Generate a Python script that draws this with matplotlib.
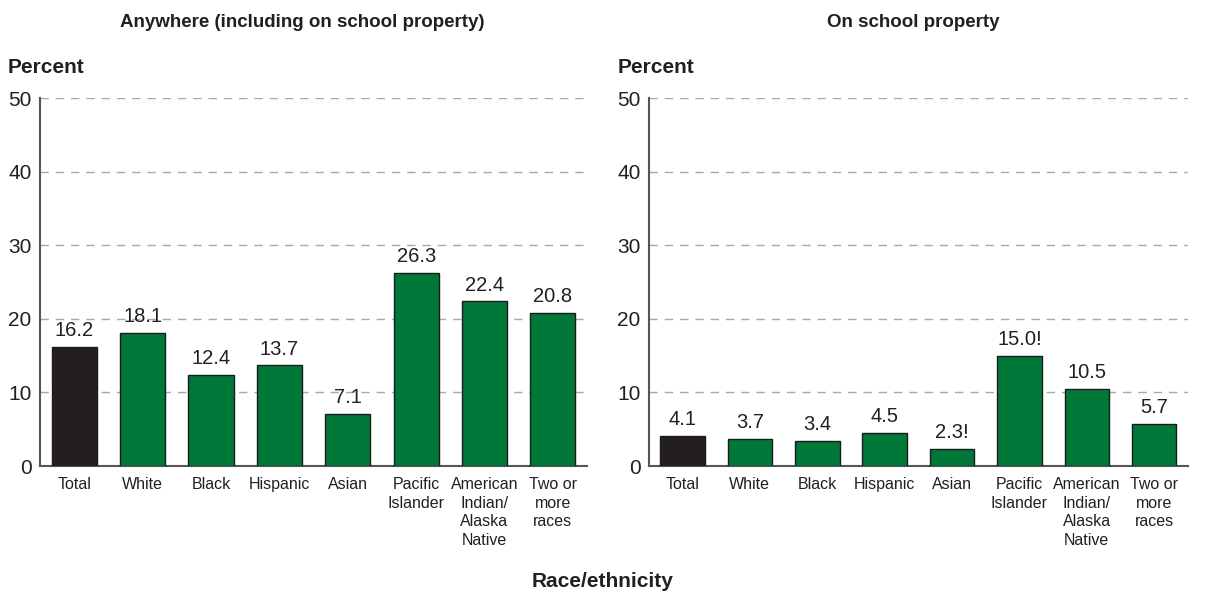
import matplotlib
matplotlib.use("Agg")
import matplotlib.pyplot as plt

plt.rcParams['font.family'] = ['Liberation Sans', 'DejaVu Sans']

categories = ["Total", "White", "Black", "Hispanic", "Asian", "Pacific\nIslander",
              "American\nIndian/\nAlaska\nNative", "Two or\nmore\nraces"]
anywhere = [16.2, 18.1, 12.4, 13.7, 7.1, 26.3, 22.4, 20.8]
anywhere_labels = ["16.2", "18.1", "12.4", "13.7", "7.1", "26.3", "22.4", "20.8"]
school = [4.1, 3.7, 3.4, 4.5, 2.3, 15.0, 10.5, 5.7]
school_labels = ["4.1", "3.7", "3.4", "4.5", "2.3!", "15.0!", "10.5", "5.7"]
yticks = [0, 10, 20, 30, 40, 50]
titles = ["Anywhere (including on school property)", "On school property"]

GREEN = "#00783A"
DARK = "#231F20"

fig = plt.figure(figsize=(12.06, 5.99), dpi=100)
ax1 = fig.add_axes([0.0332, 0.222, 0.4536, 0.614])
ax2 = fig.add_axes([0.538, 0.222, 0.447, 0.614])

for ax, vals, labs, title in [(ax1, anywhere, anywhere_labels, titles[0]),
                              (ax2, school, school_labels, titles[1])]:
    x = range(len(categories))
    colors = [DARK] + [GREEN] * (len(categories) - 1)
    ax.bar(x, vals, width=0.66, color=colors, edgecolor="#1a1a1a", linewidth=1.0, zorder=3)
    for xi, v, l in zip(x, vals, labs):
        ax.text(xi, v + 0.9, l, ha="center", va="bottom", fontsize=14.5, color="#231F20")
    ax.set_xlim(-0.5, len(categories) - 0.5)
    ax.set_ylim(0, 50)
    ax.set_yticks(yticks)
    ax.set_yticklabels([str(t) for t in yticks], fontsize=15, color="#231F20")
    ax.set_xticks(list(x))
    ax.set_xticklabels(categories, fontsize=11.5, color="#231F20", linespacing=1.3)
    ax.tick_params(axis="both", length=0)
    ax.tick_params(axis="y", pad=6)
    ax.tick_params(axis="x", pad=8)
    ax.yaxis.grid(True, linestyle=(0, (6, 5)), color="#A8A8A8", linewidth=1.0, zorder=0)
    ax.set_axisbelow(True)
    for s in ["top", "right"]:
        ax.spines[s].set_visible(False)
    for s in ["left", "bottom"]:
        ax.spines[s].set_color("#555555")
        ax.spines[s].set_linewidth(1.5)

fig.text(0.251, 0.963, titles[0], ha="center", va="center", fontsize=13.5, fontweight="bold", color="#231F20")
fig.text(0.757, 0.963, titles[1], ha="center", va="center", fontsize=13.5, fontweight="bold", color="#231F20")
fig.text(0.006, 0.888, "Percent", ha="left", va="center", fontsize=15, fontweight="bold", color="#231F20")
fig.text(0.512, 0.888, "Percent", ha="left", va="center", fontsize=15, fontweight="bold", color="#231F20")
fig.text(0.5, 0.03, "Race/ethnicity", ha="center", va="center", fontsize=15, fontweight="bold", color="#231F20")

fig.savefig("out.png", dpi=100)
